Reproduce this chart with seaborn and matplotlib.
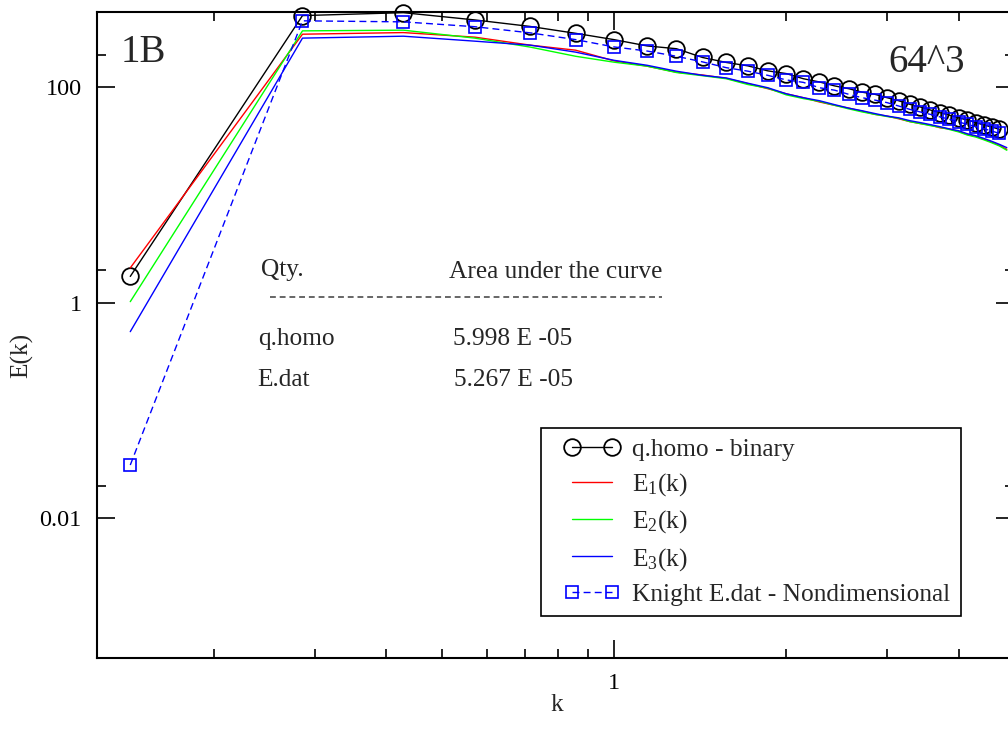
import matplotlib
matplotlib.use("Agg")
import matplotlib.pyplot as plt
import seaborn as sns
from matplotlib.ticker import FixedLocator, FuncFormatter, NullFormatter
from matplotlib.lines import Line2D
from matplotlib.legend_handler import HandlerLine2D

# wavenumber shells (k = n / 7)
k = [0.1429, 0.2857, 0.4286, 0.5714, 0.7143, 0.8571, 1.0, 1.1429, 1.2857,
     1.4286, 1.5714, 1.7143, 1.8571, 2.0, 2.1429, 2.2857, 2.4286, 2.5714,
     2.7143, 2.8571, 3.0, 3.1429, 3.2857, 3.4286, 3.5714, 3.7143, 3.8571,
     4.0, 4.1429, 4.2857, 4.4286, 4.5714, 4.7143, 4.8571]
k_sym = k[:33]

# q.homo - binary spectrum
qhomo = [1.75, 463, 493, 422, 367, 317, 277, 242, 228, 189, 170, 158, 142,
         134, 120, 112, 103, 97, 90, 86, 80, 75, 69.5, 65.6, 61.5, 58, 55,
         52, 49.6, 47, 44.6, 42.7, 40.7]

# Knight E.dat - Nondimensional
knight = [0.031, 414, 405, 365, 320, 277, 237, 217, 194, 172, 152, 141, 129,
          117, 111, 99, 94, 86, 80, 76, 72, 67, 62.4, 59, 56, 53, 50.4,
          47.6, 45.3, 43, 41.3, 39.2, 37.3]

# component spectra
e1 = [2.1, 311, 322, 292, 246, 221, 176, 157, 138, 130, 121, 108, 97, 87,
      80, 73, 68, 64, 60, 56, 54, 51, 48, 46, 44.5, 42, 41, 39, 36.5, 35,
      33, 31, 29, 26.5]
e2 = [1.02, 334, 339, 286, 236, 194, 171, 157, 137, 128, 120, 106, 98, 85,
      78.5, 74, 68, 63, 59, 56, 53.5, 51.5, 48, 46, 44, 42.5, 40.5, 38.5,
      36, 34.5, 32.5, 30.5, 28.5, 26]
e3 = [0.537, 286, 298, 268, 246, 212, 178, 160, 141, 129, 122, 109, 99, 87,
      80, 75, 69, 64, 60.5, 57, 54, 52, 49, 47, 45, 43, 41, 39.5, 37, 35.5,
      33.5, 31.5, 29.5, 27.5]

# axis ticks
x_major = [1]
x_minor = [0.2, 0.3, 0.4, 0.5, 0.6, 0.7, 0.8, 0.9, 2, 3, 4]
y_major = [0.01, 1, 100]
y_minor = [0.02, 2, 200]

table_rows = [("q.homo", "5.998 E -05"), ("E.dat", "5.267 E -05")]

sns.set_style("ticks")
plt.rcParams["font.family"] = ["Liberation Serif", "DejaVu Serif"]
plt.rcParams["mathtext.fontset"] = "custom"
plt.rcParams["mathtext.rm"] = "Liberation Serif"
plt.rcParams["mathtext.it"] = "Liberation Serif:italic"

FS = 18.3
W, H = 1008, 746
fig = plt.figure(figsize=(W / 100, H / 100), dpi=100)
fig.patch.set_facecolor("white")
ax = fig.add_axes([97 / W, 88 / H, 917 / W, 646 / H])
ax.set_facecolor("white")


def fpos(x, y):
    return x / W, 1 - y / H


sns.lineplot(x=k_sym, y=qhomo, ax=ax, color="black", lw=1.0, marker="o",
             ms=12, mfc="none", mec="black", mew=1.3, estimator=None,
             sort=False, clip_on=False, label="q.homo - binary")
sns.lineplot(x=k, y=e1, ax=ax, color="#ff0000", lw=1.0, estimator=None,
             sort=False, label="E$_1$(k)")
sns.lineplot(x=k, y=e2, ax=ax, color="#00ff00", lw=1.0, estimator=None,
             sort=False, label="E$_2$(k)")
sns.lineplot(x=k, y=e3, ax=ax, color="#0000ff", lw=1.0, estimator=None,
             sort=False, label="E$_3$(k)")
sns.lineplot(x=k_sym, y=knight, ax=ax, color="#0000ff", lw=1.0,
             linestyle=(0, (5, 3)), marker="s", ms=8.5, mfc="none",
             mec="#0000ff", mew=1.2, estimator=None, sort=False,
             clip_on=False, label="Knight E.dat - Nondimensional")

ax.set_xscale("log")
ax.set_yscale("log")
ax.set_xlim(0.125, 5)
ax.set_ylim(5e-4, 500)

ax.xaxis.set_major_locator(FixedLocator(x_major))
ax.xaxis.set_minor_locator(FixedLocator(x_minor))
ax.yaxis.set_major_locator(FixedLocator(y_major))
ax.yaxis.set_minor_locator(FixedLocator(y_minor))
fmt = FuncFormatter(lambda v, _: f"{v:g}")
ax.xaxis.set_major_formatter(fmt)
ax.yaxis.set_major_formatter(fmt)
ax.xaxis.set_minor_formatter(NullFormatter())
ax.yaxis.set_minor_formatter(NullFormatter())

ax.tick_params(which="both", direction="in", top=True, right=True,
               colors="black", width=1.2, labelsize=17.5)
ax.tick_params(which="major", length=13, pad=11)
ax.tick_params(which="minor", length=6.5)
for s in ax.spines.values():
    s.set_linewidth(1.5)
    s.set_color("black")

ax.set_xlabel("")
ax.set_ylabel("")
fig.text(*fpos(557, 705), "k", ha="center", va="center", fontsize=FS)
fig.text(*fpos(22, 355), "E(k)", ha="center", va="center", fontsize=FS,
         rotation=90)

fig.text(*fpos(143, 52), "1B", ha="center", va="center", fontsize=28)
fig.text(*fpos(927, 62), "64^3", ha="center", va="center", fontsize=28)

# area table
fig.text(*fpos(282, 270), "Qty.", ha="center", va="center", fontsize=FS)
fig.text(*fpos(556, 272), "Area under the curve", ha="center", va="center",
         fontsize=FS)
x0, y0 = fpos(270, 297)
x1, _ = fpos(662, 297)
fig.add_artist(Line2D([x0, x1], [y0, y0], color="#666666", lw=1.4,
                      linestyle=(0, (3, 2)), transform=fig.transFigure))
for (name, val), (xn, xv, yy) in zip(table_rows, [(296, 513, 339), (284, 513, 380)]):
    fig.text(*fpos(xn, yy), name, ha="center", va="center", fontsize=FS)
    fig.text(*fpos(xv, yy), val, ha="center", va="center", fontsize=FS)

leg = ax.legend(loc="upper left", bbox_to_anchor=fpos(541, 428),
                bbox_transform=fig.transFigure, frameon=True, fancybox=False,
                edgecolor="black", framealpha=1, fontsize=FS,
                handlelength=3.2, handletextpad=0.0, labelspacing=0.41,
                borderpad=0.4, borderaxespad=0,
                handler_map={Line2D: HandlerLine2D(numpoints=2, marker_pad=0.8)})
leg.get_frame().set_linewidth(1.2)

fig.savefig("out.png", dpi=100, facecolor="white")
